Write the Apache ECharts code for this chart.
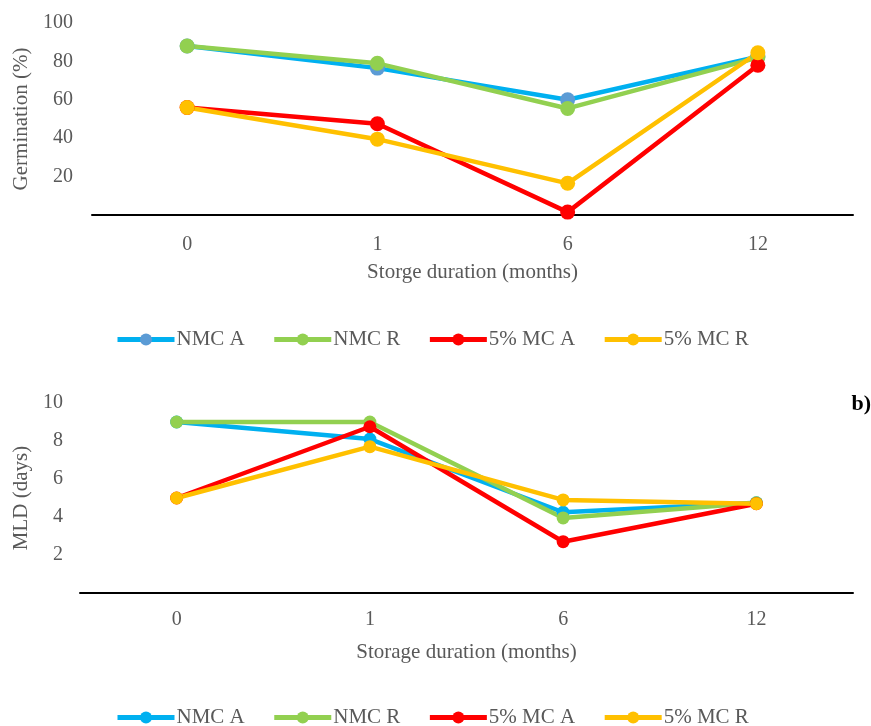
<!DOCTYPE html>
<html>
<head>
<meta charset="utf-8">
<style>
  html, body { margin: 0; padding: 0; background: #fff; }
  #chart { width: 871px; height: 726px; }
</style>
<script src="https://cdn.jsdelivr.net/npm/echarts@6/dist/echarts.min.js"></script>
</head>
<body>
<div id="chart"></div>
<script>
// Storage duration categories (months)
const months = ['0', '1', '6', '12'];

// a) Germination (%)
const germNmcA = [88, 76.5, 60, 82.5];
const germNmcR = [88, 79, 55.5, 82];
const germMcA = [56, 47.5, 1.5, 78];
const germMcR = [56, 39.5, 16.5, 84.5];

// b) MLD (days)
const mldNmcA = [9, 8.1, 4.25, 4.75];
const mldNmcR = [9, 9, 3.95, 4.75];
const mldMcA = [5, 8.75, 2.7, 4.7];
const mldMcR = [5, 7.7, 4.9, 4.7];

const seriesNames = ['NMC A', 'NMC R', '5% MC A', '5% MC R'];
const yTicksTop = [20, 40, 60, 80, 100];
const yTicksBottom = [2, 4, 6, 8, 10];

const FONT = '"Liberation Serif", "Times New Roman", serif';
const FS = 20;      // tick labels
const FS_T = 21;    // axis titles and legend
const GREY = '#595959';
const BLUE = '#00B0F0', STEEL = '#5B9BD5', GREEN = '#92D050', RED = '#FF0000', GOLD = '#FFC000';

function lineSeries(name, data, idx, lineColor, markerColor, size) {
  return {
    name: name,
    type: 'line',
    xAxisIndex: idx,
    yAxisIndex: idx,
    data: data,
    symbol: 'circle',
    symbolSize: size,
    showSymbol: true,
    lineStyle: { color: lineColor, width: 4.5 },
    itemStyle: { color: markerColor },
    emphasis: { disabled: true },
    animation: false
  };
}

function xAxisCfg(idx, title, labelMargin, nameGap) {
  return {
    type: 'category',
    gridIndex: idx,
    data: months,
    boundaryGap: true,
    name: title,
    nameLocation: 'middle',
    nameGap: nameGap,
    nameTextStyle: { fontFamily: FONT, fontSize: FS_T, color: GREY },
    axisLine: { show: true, lineStyle: { color: '#000', width: 2 } },
    axisTick: { show: false },
    axisLabel: { fontFamily: FONT, fontSize: FS, color: GREY, margin: labelMargin },
    splitLine: { show: false }
  };
}

function yAxisCfg(idx, title, max, interval, ticks, labelMargin, nameGap) {
  return {
    type: 'value',
    gridIndex: idx,
    min: 0,
    max: max,
    interval: interval,
    name: title,
    nameLocation: 'middle',
    nameGap: nameGap,
    nameRotate: 90,
    nameTextStyle: { fontFamily: FONT, fontSize: FS_T, color: GREY },
    axisLine: { show: false },
    axisTick: { show: false },
    splitLine: { show: false },
    axisLabel: {
      fontFamily: FONT, fontSize: FS, color: GREY, margin: labelMargin,
      formatter: v => (ticks.indexOf(v) >= 0 ? String(v) : '')
    }
  };
}

function legendCfg(top, nmcAMarker) {
  return {
    top: top,
    left: 110,
    itemWidth: 57,
    itemHeight: 15,
    itemGap: 27,
    selectedMode: false,
    lineStyle: { width: 5 },
    textStyle: { fontFamily: FONT, fontSize: FS_T, color: GREY, padding: [0, 0, 0, -3] },
    data: [
      { name: 'NMC A', itemStyle: { color: nmcAMarker } },
      { name: 'NMC R' },
      { name: '5% MC A' },
      { name: '5% MC R' }
    ]
  };
}

const chart = echarts.init(document.getElementById('chart'), null, { renderer: 'canvas' });
chart.setOption({
  animation: false,
  backgroundColor: '#fff',
  grid: [
    { left: 92, right: 18, top: 23, height: 192 },
    { left: 80, right: 18, top: 403, height: 190 }
  ],
  xAxis: [
    xAxisCfg(0, 'Storge duration (months)', 20, 47),
    xAxisCfg(1, 'Storage duration (months)', 17, 49)
  ],
  yAxis: [
    yAxisCfg(0, 'Germination (%)', 100, 20, yTicksTop, 19, 58),
    yAxisCfg(1, 'MLD (days)', 10, 2, yTicksBottom, 17, 45)
  ],
  legend: [legendCfg(324, STEEL), legendCfg(702, BLUE)],
  graphic: [{
    type: 'text',
    right: 0,
    top: 393,
    style: { text: 'b)', fontFamily: FONT, fontSize: 22, fontWeight: 'bold', fill: '#000' }
  }],
  series: [
    lineSeries(seriesNames[0], germNmcA, 0, BLUE, STEEL, 15),
    lineSeries(seriesNames[1], germNmcR, 0, GREEN, GREEN, 15),
    lineSeries(seriesNames[2], germMcA, 0, RED, RED, 15),
    lineSeries(seriesNames[3], germMcR, 0, GOLD, GOLD, 15),
    lineSeries(seriesNames[0], mldNmcA, 1, BLUE, BLUE, 13),
    lineSeries(seriesNames[1], mldNmcR, 1, GREEN, GREEN, 13),
    lineSeries(seriesNames[2], mldMcA, 1, RED, RED, 13),
    lineSeries(seriesNames[3], mldMcR, 1, GOLD, GOLD, 13)
  ]
});
</script>
</body>
</html>
